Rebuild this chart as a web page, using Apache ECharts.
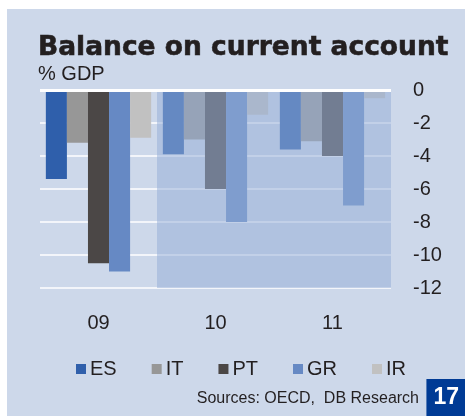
<!DOCTYPE html>
<html>
<head>
<meta charset="utf-8">
<script src="https://cdn.jsdelivr.net/npm/echarts@6/dist/echarts.min.js"></script>
<style>
  html, body { margin: 0; padding: 0; background: #ffffff; }
  #chart { width: 465px; height: 416px; }
</style>
</head>
<body>
<div id="chart"></div>
<script>
const years = ['09', '10', '11'];
const seriesNames = ['ES', 'IT', 'PT', 'GR', 'IR'];
const seriesColors = ['#2f5fab', '#979797', '#4b4746', '#6689c4', '#c1c1c1'];
const valuesES = [-5.4, -3.9, -3.6];
const valuesIT = [-3.2, -3.0, -3.1];
const valuesPT = [-10.5, -6.0, -4.0];
const valuesGR = [-11.0, -8.0, -7.0];
const valuesIR = [-2.9, -1.5, -0.5];
const yTicks = { min: -12, max: 0, interval: 2 };
// forecast years are shaded (index range on the helper axis)
const forecastRange = [1, 3];

const allValues = [valuesES, valuesIT, valuesPT, valuesGR, valuesIR];
const textColor = '#231f20';
const font = 'Liberation Sans';

const chart = echarts.init(document.getElementById('chart'));

const barSeries = seriesNames.map((name, i) => ({
  name: name,
  type: 'bar',
  data: allValues[i],
  barGap: 0,
  barCategoryGap: '10%',
  itemStyle: { color: seriesColors[i] },
  z: 2
}));

chart.setOption({
  backgroundColor: '#ffffff',
  animation: false,
  graphic: [
    {
      type: 'rect',
      shape: { x: 7, y: 9, width: 458, height: 407 },
      style: { fill: '#cdd8ea' },
      z: -10
    }
  ],
  title: [
    {
      text: 'Balance on current account',
      left: 38,
      top: 35,
      padding: 0,
      textStyle: {
        fontFamily: 'DejaVu Sans',
        fontWeight: 'bold',
        fontSize: 26.5,
        color: textColor,
        textBorderColor: textColor,
        textBorderWidth: 0.6
      }
    },
    {
      text: '% GDP',
      left: 38,
      top: 64,
      padding: 0,
      textStyle: { fontFamily: font, fontWeight: 'normal', fontSize: 20, color: textColor }
    },
    {
      text: 'Sources: OECD,  DB Research',
      right: 46,
      top: 391,
      padding: 0,
      textStyle: { fontFamily: font, fontWeight: 'normal', fontSize: 16, color: textColor }
    },
    {
      text: '17',
      right: 0,
      bottom: 0,
      padding: [7, 6, 7, 7],
      backgroundColor: '#003b95',
      textStyle: { fontFamily: font, fontWeight: 'bold', fontSize: 23, color: '#ffffff' }
    }
  ],
  legend: {
    left: 76,
    top: 359,
    padding: 0,
    itemWidth: 10,
    itemHeight: 10,
    itemGap: 35,
    icon: 'rect',
    data: seriesNames,
    textStyle: { fontFamily: font, fontSize: 20, color: textColor, padding: [0, 0, 0, -1] }
  },
  grid: {
    left: 40,
    right: 74,
    top: 90,
    bottom: 128
  },
  xAxis: [
    {
      type: 'category',
      data: years,
      axisLine: { show: false },
      axisTick: { show: false },
      axisLabel: { fontFamily: font, fontSize: 20, color: textColor, margin: 25 }
    },
    {
      type: 'value',
      min: 0,
      max: years.length,
      show: false
    }
  ],
  yAxis: {
    type: 'value',
    position: 'right',
    min: yTicks.min,
    max: yTicks.max,
    interval: yTicks.interval,
    axisLine: { show: false },
    axisTick: { show: false },
    axisLabel: { fontFamily: font, fontSize: 20, color: textColor, margin: 22, align: 'left' },
    splitLine: { lineStyle: { color: '#ffffff', width: 1.5 } }
  },
  series: [
    ...barSeries,
    {
      name: 'forecast',
      type: 'line',
      xAxisIndex: 1,
      data: [],
      silent: true,
      clip: false,
      z: 5,
      markArea: {
        silent: true,
        z: 4,
        itemStyle: { color: 'rgba(150, 176, 215, 0.525)' },
        data: [[
          { xAxis: forecastRange[0], yAxis: -0.05 },
          { xAxis: forecastRange[1], yAxis: -12.25 }
        ]]
      }
    },
    {
      name: 'zero',
      type: 'line',
      xAxisIndex: 1,
      data: [],
      silent: true,
      z: 6,
      markLine: {
        silent: true,
        z: 6,
        symbol: 'none',
        label: { show: false },
        lineStyle: { color: '#ffffff', width: 3, type: 'solid' },
        data: [{ yAxis: 0 }]
      }
    }
  ]
});
</script>
</body>
</html>
